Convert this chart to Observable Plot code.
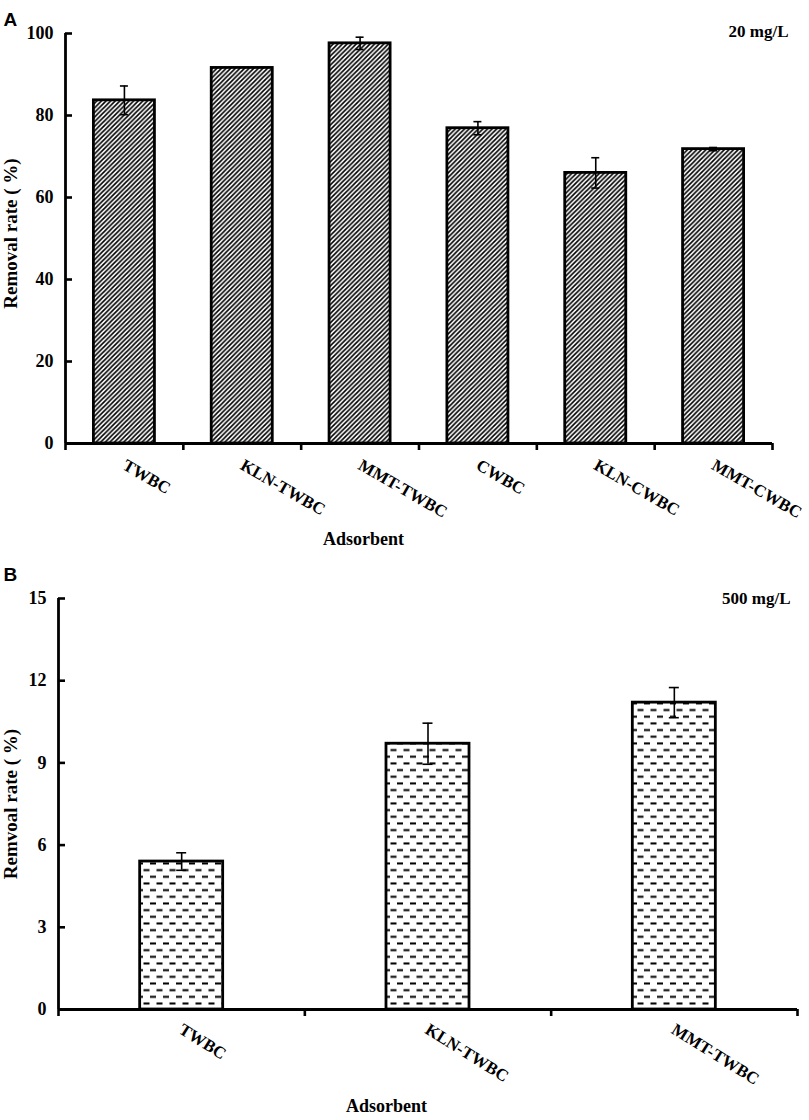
<!DOCTYPE html>
<html><head><meta charset="utf-8">
<script src="https://cdn.jsdelivr.net/npm/d3@7"></script>
<script src="https://cdn.jsdelivr.net/npm/@observablehq/plot@0.6"></script>
<style>
body{margin:0;background:#fff;}
#wrap{position:relative;width:809px;height:1120px;overflow:hidden;background:#fff;}
.panel{position:absolute;left:0;}
</style></head><body>
<div id="wrap"><div id="pa" class="panel" style="top:0"></div><div id="pb" class="panel" style="top:560px"></div></div>
<script>
// ---- data ----
const categoriesA = ["TWBC", "KLN-TWBC", "MMT-TWBC", "CWBC", "KLN-CWBC", "MMT-CWBC"];
const removalA = [83.7, 91.6, 97.6, 76.9, 66.0, 71.8];
const errorA = [3.5, 0, 1.5, 1.6, 3.7, 0.4];
const yTicksA = [0, 20, 40, 60, 80, 100];

const categoriesB = ["TWBC", "KLN-TWBC", "MMT-TWBC"];
const removalB = [5.4, 9.7, 11.2];
const errorB = [0.32, 0.75, 0.55];
const yTicksB = [0, 3, 6, 9, 12, 15];

const serif = "'Liberation Serif', 'Times New Roman', serif";
const sans = "'Liberation Sans', Arial, sans-serif";

function panel(cfg) {
  const W = 809;
  const n = cfg.cats.length;
  const bandPx = (W - cfg.ml - cfg.mr) / n;
  const capHalf = cfg.capPx / bandPx;
  const data = cfg.cats.map((c, i) => ({c, i, v: cfg.vals[i], e: cfg.errs[i]}));
  const withErr = data.filter(d => d.e > 0);
  const svg = Plot.plot({
    width: W, height: cfg.height,
    marginLeft: cfg.ml, marginRight: cfg.mr, marginTop: cfg.mt, marginBottom: cfg.mb,
    style: {fontFamily: serif, fontSize: "18px", fontWeight: "bold", color: "#000", background: "#fff", overflow: "visible"},
    x: {domain: [0, n]},
    y: {domain: [0, cfg.yMax]},
    marks: [
      Plot.rectY(data, {
        x1: d => d.i + (1 - cfg.barFrac) / 2, x2: d => d.i + (1 + cfg.barFrac) / 2,
        y1: 0, y2: d => d.v,
        fill: `url(#${cfg.patId})`, stroke: "#000", strokeWidth: 2.8
      }),
      Plot.ruleX(withErr, {x: d => d.i + 0.5, y1: d => d.v - d.e, y2: d => d.v + d.e, stroke: "#000", strokeWidth: 1.6}),
      Plot.ruleY(withErr, {y: d => d.v + d.e, x1: d => d.i + 0.5 - capHalf, x2: d => d.i + 0.5 + capHalf, stroke: "#000", strokeWidth: 1.6}),
      Plot.ruleY(withErr, {y: d => d.v - d.e, x1: d => d.i + 0.5 - capHalf, x2: d => d.i + 0.5 + capHalf, stroke: "#000", strokeWidth: 1.6}),
      Plot.ruleX([0], {stroke: "#000", strokeWidth: 2.8}),
      Plot.ruleY([0], {stroke: "#000", strokeWidth: 2.8}),
      Plot.axisY({ticks: cfg.yTicks, tickSize: -7, tickPadding: 19, strokeWidth: 2.6, label: null,
        fontSize: 18, fontWeight: "bold", fontFamily: serif}),
      Plot.axisX({ticks: d3.range(n + 1), tickSize: 7, strokeWidth: 2.6, tickFormat: () => "", label: null}),
      Plot.text(data, {x: d => d.i + 0.5, text: d => d.c, frameAnchor: "bottom", rotate: cfg.rot,
        textAnchor: "start", dx: cfg.tlDx, dy: cfg.tlDy, fontSize: 17, fontWeight: "bold", fontFamily: serif}),
      Plot.text([cfg.xlabel], {text: d => d, frameAnchor: "bottom", textAnchor: "middle", dx: cfg.xlDx, dy: cfg.xlDy,
        fontSize: 18, fontWeight: "bold", fontFamily: serif}),
      Plot.text([cfg.ylabel], {text: d => d, frameAnchor: "left", textAnchor: "middle", rotate: -90, dx: cfg.ylDx, dy: cfg.ylDy,
        fontSize: 19, fontWeight: "bold", fontFamily: serif}),
      Plot.text([cfg.conc], {text: d => d, frameAnchor: "top-right", textAnchor: "end", dx: cfg.cDx, dy: cfg.cDy,
        fontSize: 17, fontWeight: "bold", fontFamily: serif}),
      Plot.text([cfg.letter], {text: d => d, frameAnchor: "top-left", textAnchor: "start", dx: cfg.lDx, dy: cfg.lDy,
        fontSize: 19, fontWeight: "bold", fontFamily: sans})
    ]
  });
  const defs = document.createElementNS("http://www.w3.org/2000/svg", "defs");
  defs.innerHTML = cfg.patternSvg;
  svg.insertBefore(defs, svg.firstChild);
  return svg;
}

const patA = `<pattern id="patA" patternUnits="userSpaceOnUse" width="4.6" height="4.6">
<rect width="4.6" height="4.6" fill="#fff"/>
<path d="M-1,1 L1,-1 M0,4.6 L4.6,0 M3.6,5.6 L5.6,3.6" stroke="#000" stroke-width="1.6"/>
</pattern>`;
const patB = `<pattern id="patB" patternUnits="userSpaceOnUse" width="13" height="13.34">
<rect width="13" height="13.34" fill="#fff"/>
<rect x="0.5" y="2.3" width="6" height="2" fill="#000"/>
<rect x="7" y="8.97" width="6" height="2" fill="#000"/>
</pattern>`;

document.getElementById("pa").appendChild(panel({
  cats: categoriesA, vals: removalA, errs: errorA, yTicks: yTicksA, yMax: 100,
  height: 560, ml: 65, mr: 37, mt: 33, mb: 117,
  barFrac: 0.518, capPx: 4, patId: "patA", patternSvg: patA, rot: 30,
  tlDx: -3, tlDy: 25,
  xlabel: "Adsorbent", xlDx: -55.5, xlDy: 101,
  ylabel: "Removal rate ( %)", ylDx: -55, ylDy: -5,
  conc: "20 mg/L", cDx: 16, cDy: -9,
  letter: "A", lDx: -62, lDy: -21
}));

document.getElementById("pb").appendChild(panel({
  cats: categoriesB, vals: removalB, errs: errorB, yTicks: yTicksB, yMax: 15,
  height: 560, ml: 58, mr: 12, mt: 38, mb: 111,
  barFrac: 0.337, capPx: 5, patId: "patB", patternSvg: patB, rot: 32,
  tlDx: -4, tlDy: 23,
  xlabel: "Adsorbent", xlDx: -41.5, xlDy: 102,
  ylabel: "Remvoal rate ( %)", ylDx: -48, ylDy: 0,
  conc: "500 mg/L", cDx: -7, cDy: -7,
  letter: "B", lDx: -55, lDy: -31
}));
</script>
</body></html>
